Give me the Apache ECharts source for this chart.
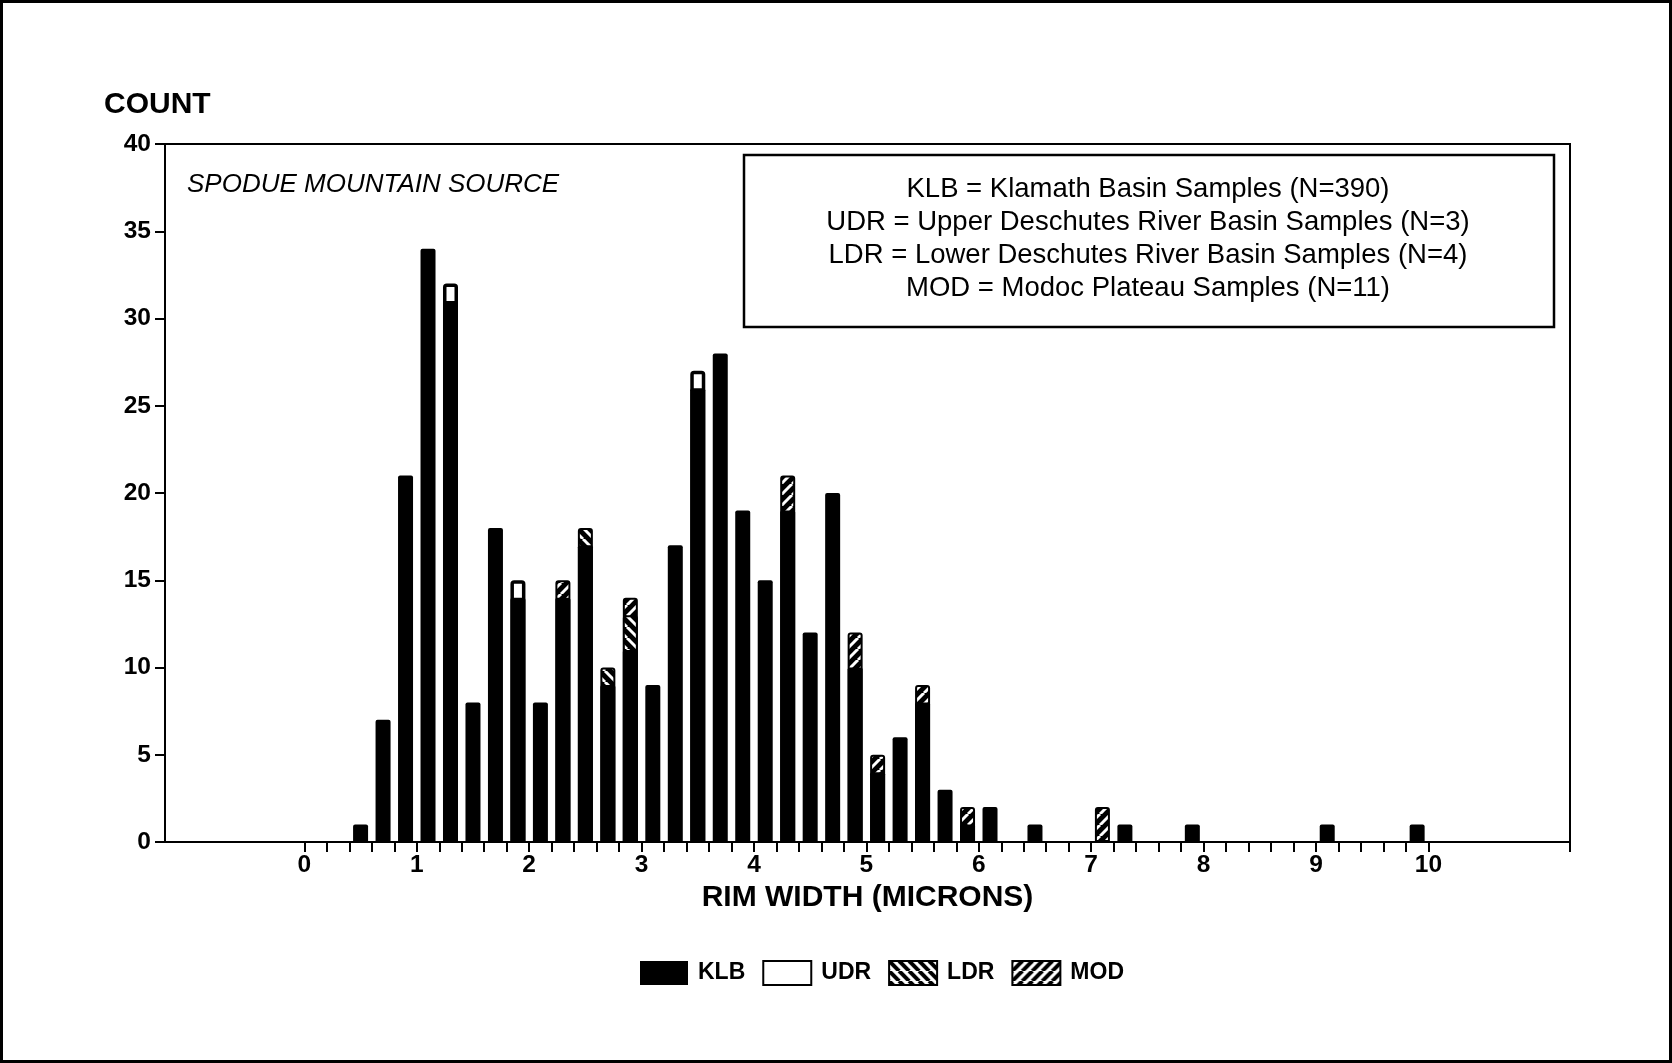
<!DOCTYPE html>
<html>
<head>
<meta charset="utf-8">
<title>Spodue Mountain Source - rim width</title>
<script src="https://cdn.jsdelivr.net/npm/echarts@6/dist/echarts.min.js"></script>
<style>
  html, body { margin: 0; padding: 0; background: #fff; }
  #chart { width: 1672px; height: 1063px; }
</style>
</head>
<body>
<div id="chart"></div>
<script>
// bin centres (microns), bins are 0.2 wide
const binCenters = [0.5, 0.7, 0.9, 1.1, 1.3, 1.5, 1.7, 1.9, 2.1, 2.3, 2.5, 2.7, 2.9, 3.1, 3.3, 3.5,
  3.7, 3.9, 4.1, 4.3, 4.5, 4.7, 4.9, 5.1, 5.3, 5.5, 5.7, 5.9, 6.1, 6.3, 6.5, 6.7, 6.9, 7.1,
  7.3, 7.5, 7.7, 7.9, 8.1, 8.3, 8.5, 8.7, 8.9, 9.1, 9.3, 9.5, 9.7, 9.9]
const klb = [1, 7, 21, 34, 31, 8, 18, 14, 8, 14, 17, 9, 11, 9, 17, 26,
  28, 19, 15, 19, 12, 20, 10, 4, 6, 8, 3, 1, 2, 0, 1, 0, 0, 0,
  1, 0, 0, 1, 0, 0, 0, 0, 0, 1, 0, 0, 0, 1]
const udr = [0, 0, 0, 0, 1, 0, 0, 1, 0, 0, 0, 0, 0, 0, 0, 1,
  0, 0, 0, 0, 0, 0, 0, 0, 0, 0, 0, 0, 0, 0, 0, 0, 0, 0,
  0, 0, 0, 0, 0, 0, 0, 0, 0, 0, 0, 0, 0, 0]
const ldr = [0, 0, 0, 0, 0, 0, 0, 0, 0, 0, 1, 1, 2, 0, 0, 0,
  0, 0, 0, 0, 0, 0, 0, 0, 0, 0, 0, 0, 0, 0, 0, 0, 0, 0,
  0, 0, 0, 0, 0, 0, 0, 0, 0, 0, 0, 0, 0, 0]
const mod = [0, 0, 0, 0, 0, 0, 0, 0, 0, 1, 0, 0, 1, 0, 0, 0,
  0, 0, 0, 2, 0, 0, 2, 1, 0, 1, 0, 1, 0, 0, 0, 0, 0, 2,
  0, 0, 0, 0, 0, 0, 0, 0, 0, 0, 0, 0, 0, 0]

const xLabels = [0, 1, 2, 3, 4, 5, 6, 7, 8, 9, 10]
const yTicks = [0, 5, 10, 15, 20, 25, 30, 35, 40]
const noteLines = [
  'KLB = Klamath Basin Samples (N=390)',
  'UDR = Upper Deschutes River Basin Samples (N=3)',
  'LDR = Lower Deschutes River Basin Samples (N=4)',
  'MOD = Modoc Plateau Samples (N=11)'
]

const FONT = '"Liberation Sans", Arial, Helvetica, sans-serif'
const X_MIN = -1.24
const X_MAX = 11.26

// diagonal hatch tile; dir 1 = "\" , -1 = "/"
const makeHatch = (dir, bg, fg, size, lw) => {
  const c = document.createElement('canvas')
  c.width = size
  c.height = size
  const ctx = c.getContext('2d')
  ctx.fillStyle = bg
  ctx.fillRect(0, 0, size, size)
  ctx.strokeStyle = fg
  ctx.lineWidth = lw
  for (let k = -1; k <= 1; k++) {
    ctx.beginPath()
    if (dir > 0) {
      ctx.moveTo(k * size, 0)
      ctx.lineTo(k * size + size, size)
    } else {
      ctx.moveTo(k * size, size)
      ctx.lineTo(k * size + size, 0)
    }
    ctx.stroke()
  }
  return { image: c, repeat: 'repeat' }
}

const ldrFill = makeHatch(1, '#000', '#fff', 11, 3)
const modFill = makeHatch(-1, '#000', '#fff', 11, 3)
const ldrLegend = makeHatch(1, '#fff', '#000', 10, 4)
const modLegend = makeHatch(-1, '#fff', '#000', 10, 4)

// bars are drawn overlapping: each series reaches the top of its own segment
const buildSeries = (own, layers) => binCenters
  .map((x, i) => [x, layers.reduce((s, arr) => s + arr[i], 0), own[i]])
  .filter(d => d[2] > 0)
  .map(d => [d[0], d[1]])

const barBase = {
  type: 'bar',
  barWidth: 15,
  barGap: '-100%',
  animation: false,
  silent: true
}

const chart = echarts.init(document.getElementById('chart'), null, { renderer: 'canvas' })

chart.setOption({
  backgroundColor: '#fff',
  textStyle: { fontFamily: FONT },
  grid: {
    left: 165, right: 102, top: 144, bottom: 221,
    show: true, borderColor: '#000', borderWidth: 2, backgroundColor: 'transparent'
  },
  legend: {
    left: 640,
    top: 960,
    padding: 0,
    itemWidth: 48,
    itemHeight: 24,
    itemGap: 17,
    icon: 'rect',
    selectedMode: false,
    textStyle: { fontFamily: FONT, fontSize: 23, fontWeight: 'bold', color: '#000', padding: [0, 0, 0, 5] },
    data: [
      { name: 'KLB' },
      { name: 'UDR', itemStyle: { borderWidth: 2 } },
      { name: 'LDR', itemStyle: { color: ldrLegend, borderWidth: 2 } },
      { name: 'MOD', itemStyle: { color: modLegend, borderWidth: 2 } }
    ]
  },
  xAxis: {
    type: 'value',
    min: X_MIN,
    max: X_MAX,
    name: 'RIM WIDTH (MICRONS)',
    nameLocation: 'middle',
    nameGap: 40,
    nameTextStyle: { fontFamily: FONT, fontSize: 30, fontWeight: 'bold', color: '#000' },
    axisLine: { show: true, onZero: false, lineStyle: { color: '#000', width: 2 } },
    axisTick: {
      show: true,
      length: 10,
      lineStyle: { color: '#000', width: 2 },
      customValues: Array.from({ length: 51 }, (_, i) => +(i * 0.2).toFixed(1)).concat([X_MAX])
    },
    axisLabel: {
      customValues: xLabels,
      margin: 11,
      fontFamily: FONT,
      fontSize: 24.5,
      fontWeight: 'bold',
      color: '#000'
    },
    splitLine: { show: false }
  },
  yAxis: {
    type: 'value',
    min: 0,
    max: 40,
    interval: 5,
    axisLine: { show: true, onZero: false, lineStyle: { color: '#000', width: 2 } },
    axisTick: { show: true, length: 10, lineStyle: { color: '#000', width: 2 } },
    axisLabel: {
      customValues: yTicks,
      margin: 14,
      fontFamily: FONT,
      fontSize: 24.5,
      fontWeight: 'bold',
      color: '#000'
    },
    splitLine: { show: false }
  },
  series: [
    {
      ...barBase,
      name: 'MOD',
      data: buildSeries(mod, [klb, udr, ldr, mod]),
      itemStyle: { color: modFill, borderColor: '#000', borderWidth: 2, borderRadius: [2, 2, 0, 0] }
    },
    {
      ...barBase,
      name: 'LDR',
      data: buildSeries(ldr, [klb, udr, ldr]),
      itemStyle: { color: ldrFill, borderColor: '#000', borderWidth: 2, borderRadius: [2, 2, 0, 0] }
    },
    {
      ...barBase,
      name: 'UDR',
      data: buildSeries(udr, [klb, udr]),
      itemStyle: { color: '#fff', borderColor: '#000', borderWidth: 3.5, borderRadius: [2, 2, 0, 0] }
    },
    {
      ...barBase,
      name: 'KLB',
      data: buildSeries(klb, [klb]),
      itemStyle: { color: '#000', borderRadius: [2, 2, 0, 0] }
    }
  ],
  graphic: [
    {
      type: 'rect',
      silent: true,
      shape: { x: 1.5, y: 1.5, width: 1669, height: 1060 },
      style: { fill: 'none', stroke: '#000', lineWidth: 3 }
    },
    {
      type: 'text',
      left: 104,
      top: 90,
      style: { text: 'COUNT', fill: '#000', font: 'bold 30px ' + FONT }
    },
    {
      type: 'text',
      left: 187,
      top: 172,
      style: { text: 'SPODUE MOUNTAIN SOURCE', fill: '#000', font: 'italic 26px ' + FONT }
    },
    {
      type: 'rect',
      silent: true,
      shape: { x: 744, y: 155, width: 810, height: 172 },
      style: { fill: 'none', stroke: '#000', lineWidth: 2.5 }
    },
    ...noteLines.map((line, i) => ({
      type: 'text',
      x: 1148,
      y: 189 + i * 33.3,
      style: {
        text: line,
        fill: '#000',
        font: '27.5px ' + FONT,
        textAlign: 'center',
        textVerticalAlign: 'middle'
      }
    }))
  ]
})

window.addEventListener('resize', () => chart.resize())
</script>
</body>
</html>
